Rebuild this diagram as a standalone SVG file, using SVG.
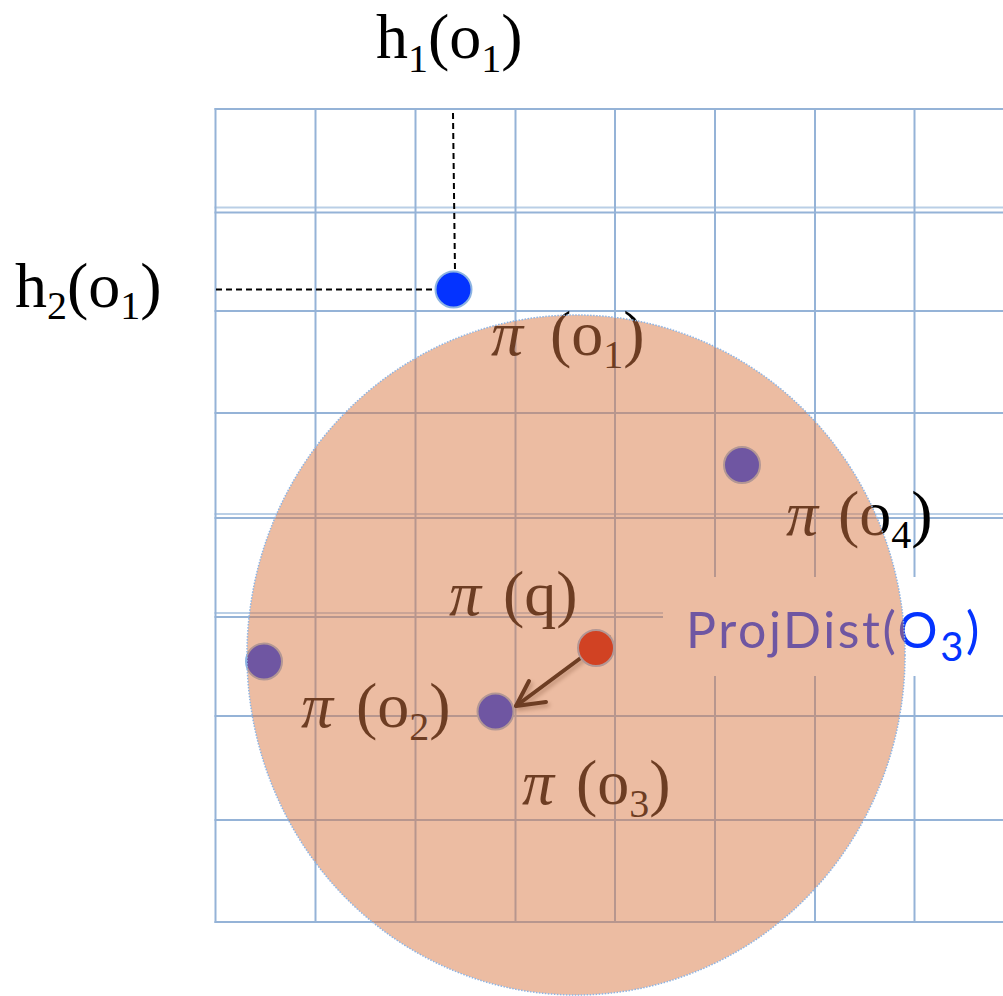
<svg xmlns="http://www.w3.org/2000/svg" width="1003" height="996" viewBox="0 0 1003 996">
<defs>
<style>
.g{stroke:#95B3D7;stroke-width:2;fill:none}
.gl{stroke:#BACFE6;stroke-width:2;fill:none}
.dash{stroke:#000;stroke-width:2;stroke-dasharray:6 4;fill:none}
.dot{stroke:#8DB4E2;stroke-width:2}
.m{font-family:"Liberation Serif","Times New Roman",serif;font-size:64px;fill:#000}
.pi{font-style:italic}
.sub{font-size:40px}
.pd{font-family:Lato,"Noto Sans",sans-serif;font-size:50px;fill:#0433FF;letter-spacing:2.6px}
</style>
<filter id="sh" x="-20%" y="-20%" width="140%" height="140%">
<feDropShadow dx="2" dy="3" stdDeviation="2" flood-color="#000" flood-opacity="0.35"/>
</filter>
</defs>
<rect width="1003" height="996" fill="#fff"/>
<g id="grid">
<path class="g" d="M214.5 109H1003M214.5 212.5H1003M214.5 311H1003M214.5 413H1003M214.5 518H1003M214.5 617H1003M214.5 716H1003M214.5 820H1003M214.5 922H1003"/>
<path class="gl" d="M214.5 207.5H1003M214.5 514H1003M214.5 613H1003"/>
<path class="g" d="M215.5 108V923M315.5 108V923M415.5 108V923M515.5 108V923M615 108V923M715 108V923M815 108V923M914.5 108V923"/>
<rect x="663" y="577" width="340" height="99" fill="#fff"/>
</g>
<g id="connectors">
<path class="dash" d="M453 113L455 272"/>
<path class="dash" d="M216 289.5H436"/>
<g filter="url(#sh)" stroke="#000" stroke-width="4" stroke-linecap="round" stroke-linejoin="round" fill="none">
<path d="M609 637L516 706"/>
<path d="M529 681L516 706L546 702"/>
</g>
</g>
<g id="o1"><circle class="dot" cx="453.5" cy="289.5" r="18" fill="#0433FF"/></g>
<g id="o4"><circle class="dot" cx="742" cy="465" r="18" fill="#0433FF"/></g>
<g id="o3"><circle class="dot" cx="264" cy="661.5" r="18" fill="#0433FF"/></g>
<g id="o2"><circle class="dot" cx="495.5" cy="711.5" r="18" fill="#0433FF"/></g>
<g id="q"><circle class="dot" cx="596" cy="648" r="18" fill="#C80A00"/></g>
<g id="labels">
<text class="m" x="376" y="58">h<tspan class="sub" dy="14">1</tspan><tspan dy="-14">(o</tspan><tspan class="sub" dy="14">1</tspan><tspan dy="-14">)</tspan></text>
<text class="m" x="15" y="307">h<tspan class="sub" dy="12">2</tspan><tspan dy="-12">(o</tspan><tspan class="sub" dy="12">1</tspan><tspan dy="-12">)</tspan></text>
<text class="m" x="491" y="355"><tspan class="pi">π</tspan><tspan x="550">(o</tspan><tspan class="sub" dy="13">1</tspan><tspan dy="-13">)</tspan></text>
<text class="m" x="786" y="535"><tspan class="pi">π</tspan><tspan x="838">(o</tspan><tspan class="sub" dy="13">4</tspan><tspan dy="-13">)</tspan></text>
<text class="m" x="449" y="615"><tspan class="pi">π</tspan><tspan x="503">(q)</tspan></text>
<text class="m" x="301" y="727"><tspan class="pi">π</tspan><tspan x="356">(o</tspan><tspan class="sub" dy="13">2</tspan><tspan dy="-13">)</tspan></text>
<text class="m" x="522" y="804"><tspan class="pi">π</tspan><tspan x="576">(o</tspan><tspan class="sub" dy="13">3</tspan><tspan dy="-13">)</tspan></text>
<text class="pd" x="686" y="648">ProjDist(O<tspan font-size="40" dy="13">3</tspan><tspan dy="-13">)</tspan></text>
</g>
<g id="range">
<ellipse cx="576" cy="655" rx="329" ry="340" fill="#D97A45" fill-opacity="0.5" stroke="#8EB4E3" stroke-width="1.5" stroke-dasharray="1.5 1.5"/>
</g>
</svg>
